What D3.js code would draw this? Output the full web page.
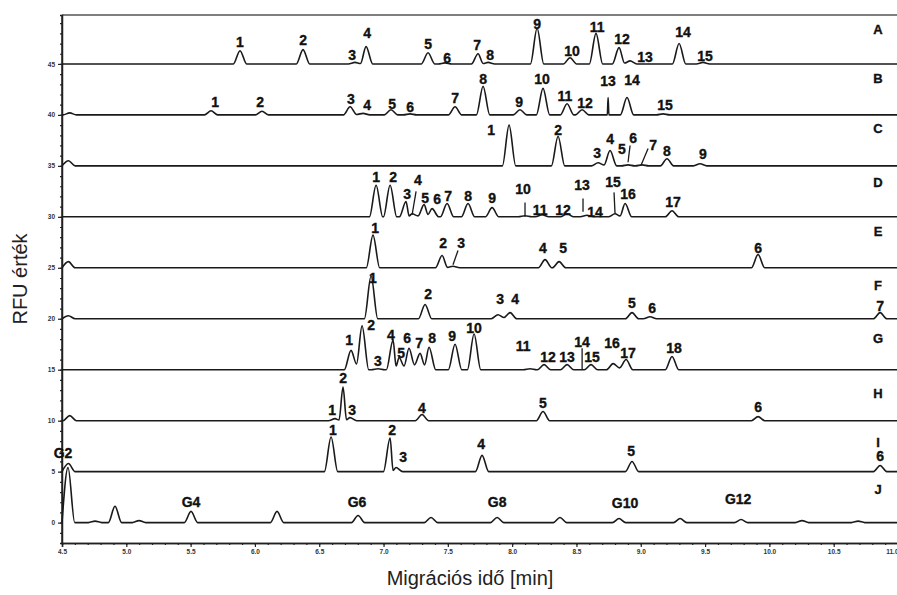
<!DOCTYPE html>
<html>
<head>
<meta charset="utf-8">
<script src="https://cdn.jsdelivr.net/npm/d3@7"></script>
<style>
  body { margin: 0; background: #fff; }
  .lbl { font-family: "Liberation Sans", Arial, sans-serif; font-weight: bold; fill: #111; stroke: #111; stroke-width: 0.35; }
</style>
</head>
<body>
<div id="chart"></div>
<script>
// electropherogram traces A..J, baseline offset in RFU
var traceNames = ["A", "B", "C", "D", "E", "F", "G", "H", "I", "J"];
var baselines = [45, 40, 35, 30, 25, 20, 15, 10, 5, 0];

// peaks: [time (min), height above baseline (RFU), optional base half-width]
var peaksA = [[5.884,1.3],[6.374,1.4],[6.778,0.15],[6.864,1.7],[7.346,1.1],[7.478,0.1],[7.735,1.0],[7.813,0.15],
  [8.194,3.5],[8.450,0.6],[8.652,3.0],[8.831,1.6],[8.917,0.3],[9.298,2.0],[9.484,0.15]];
var peaksB = [[4.56,0.2],[5.659,0.4],[6.055,0.35],[6.740,0.8],[6.841,0.15],[7.058,0.5],[7.206,0.1],[7.556,0.8],[7.774,2.8],
  [8.061,0.5],[8.240,2.6],[8.427,1.1],[8.544,0.5],[8.746,1.7,0.006],[8.893,1.7],[9.173,0.1]];
var peaksC = [[4.55,0.5],[7.976,4.0],[8.357,2.9],[8.668,0.3],[8.761,1.5],[8.901,0.1],[9.010,0.1],[9.204,0.7],[9.461,0.2]];
var peaksD = [[6.942,3.1],[7.051,3.1],[7.175,1.5],[7.222,0.3],[7.315,1.2],[7.377,0.8],[7.494,1.3],[7.657,1.3],[7.844,0.9],
  [8.100,0.1],[8.233,0.2],[8.427,0.3],[8.582,0.15],[8.800,0.3],[8.878,1.3],[9.243,0.6]];
var peaksE = [[4.55,0.6],[6.918,3.2],[7.455,1.2],[7.540,0.15],[8.256,0.8],[8.365,0.6],[9.912,1.3]];
var peaksF = [[4.55,0.3],[6.903,4.2],[7.323,1.4],[7.890,0.4],[7.984,0.6],[8.932,0.6],[9.072,0.2],[10.861,0.6]];
var peaksG = [[6.747,1.9],[6.833,4.3],[6.957,0.1],[7.074,2.9],[7.121,1.2],[7.198,2.1],[7.284,1.6],[7.354,2.2],[7.556,2.5],
  [7.704,3.5],[8.139,0.1],[8.248,0.5],[8.427,0.5],[8.613,0.5],[8.785,0.6],[8.886,1.0],[9.243,1.3]];
var peaksH = [[4.56,0.5],[6.623,0.2],[6.685,3.3],[6.739,0.3],[7.299,0.6],[8.240,0.9],[9.912,0.4]];
var peaksI = [[4.55,0.8],[6.592,3.4],[7.051,3.3],[7.097,0.4],[7.766,1.6],[8.932,1.0],[10.861,0.6]];
var peaksJ = [[4.547,5.4],[4.757,0.15],[4.912,1.6],[5.099,0.2],[5.503,1.1],[6.172,1.1],[6.802,0.7],[7.369,0.5],[7.883,0.5],
  [8.372,0.5],[8.831,0.4],[9.306,0.4],[9.780,0.3],[10.254,0.2],[10.690,0.15]];

// peak labels: [text, time, height above baseline]
var labelsA = [["1",5.884,2.2],["2",6.374,2.3],["3",6.755,0.9],["4",6.872,3.0],["5",7.346,2.0],["6",7.494,0.6],["7",7.727,1.9],
  ["8",7.828,0.9],["9",8.194,3.9],["10",8.466,1.3],["11",8.660,3.6],["12",8.855,2.4],["13",9.033,0.7],["14",9.329,3.1],["15",9.500,0.8]];
var labelsB = [["1",5.690,1.3],["2",6.040,1.3],["3",6.747,1.6],["4",6.872,1.0],["5",7.066,1.1],["6",7.206,0.8],["7",7.556,1.7],
  ["8",7.774,3.5],["9",8.054,1.3],["10",8.233,3.5],["11",8.411,1.9],["12",8.567,1.2],["13",8.746,3.3],["14",8.932,3.4],["15",9.189,1.0]];
var labelsC = [["1",7.836,3.5],["2",8.357,3.5],["3",8.660,1.3],["4",8.761,2.6],["5",8.854,1.7],["6",8.940,2.7],["7",9.096,2.0],
  ["8",9.204,1.5],["9",9.484,1.2]];
var labelsD = [["1",6.942,3.9],["2",7.074,3.9],["3",7.183,2.2],["4",7.268,3.6],["5",7.323,1.8],["6",7.416,1.7],["7",7.502,2.0],
  ["8",7.657,2.0],["9",7.844,1.8],["10",8.085,2.7],["11",8.217,0.7],["12",8.396,0.7],["13",8.544,3.1],["14",8.645,0.5],
  ["15",8.785,3.4],["16",8.901,2.2],["17",9.251,1.5]];
var labelsE = [["1",6.934,3.9],["2",7.463,2.4],["3",7.603,2.4],["4",8.240,1.9],["5",8.396,1.9],["6",9.912,1.9]];
var labelsF = [["1",6.918,4.0],["2",7.346,2.4],["3",7.906,1.9],["4",8.023,1.9],["5",8.932,1.5],["6",9.088,1.1],["7",10.861,1.3]];
var labelsG = [["1",6.732,2.9],["2",6.903,4.4],["3",6.957,0.9],["4",7.058,3.4],["5",7.136,1.6],["6",7.183,3.1],["7",7.276,2.6],
  ["8",7.377,3.1],["9",7.533,3.3],["10",7.704,4.1],["11",8.085,2.3],["12",8.279,1.2],["13",8.427,1.2],["14",8.544,2.7],
  ["15",8.621,1.2],["16",8.777,2.6],["17",8.901,1.6],["18",9.259,2.1]];
var labelsH = [["1",6.600,1.0],["2",6.685,4.2],["3",6.755,1.0],["4",7.299,1.2],["5",8.240,1.7],["6",9.912,1.3]];
var labelsI = [["1",6.607,4.1],["2",7.066,4.1],["3",7.152,1.4],["4",7.758,2.7],["5",8.925,2.0],["6",10.861,1.5]];
var labelsJ = [["G2",4.508,6.8],["G4",5.503,2.0],["G6",6.794,2.0],["G8",7.883,2.0],["G10",8.878,1.9],["G12",9.757,2.3]];

// leader lines from label to peak: [trace, t1, dy1, t2, dy2]
var pointers = [["C",8.917,2.0,8.901,0.35],["C",9.057,1.7,9.002,0.05],
  ["D",7.253,2.5,7.222,0.2],["D",8.100,1.4,8.100,0],["D",8.551,1.8,8.551,0.5],["D",8.792,2.4,8.800,0.3],
  ["E",7.579,1.7,7.540,0.3],["G",8.544,2.1,8.544,0]];

var rowLabelTime = 10.845;
var rowLabelHeights = [3.4, 3.6, 3.7, 3.4, 3.6, 3.3, 3.1, 2.7, 2.9, 3.2];

var xTickValues = [4.5, 5.0, 5.5, 6.0, 6.5, 7.0, 7.5, 8.0, 8.5, 9.0, 9.5, 10.0, 10.5, 11.0];
var yTickValues = [0, 5, 10, 15, 20, 25, 30, 35, 40, 45];

var allPeaks = [peaksA, peaksB, peaksC, peaksD, peaksE, peaksF, peaksG, peaksH, peaksI, peaksJ];
var allLabels = [labelsA, labelsB, labelsC, labelsD, labelsE, labelsF, labelsG, labelsH, labelsI, labelsJ];

var W = 897, H = 595;
var margin = {top: 15, left: 62, bottom: 52, right: -1};

var svg = d3.select("#chart").append("svg")
  .attr("width", W).attr("height", H);

var x = d3.scaleLinear().domain([4.5, 11]).range([margin.left, W - margin.right]);
var y = d3.scaleLinear().domain([-2, 49.8]).range([H - margin.bottom, margin.top]);

var baseW = 0.052;

// turn the peak list into points: feet + apex, valley between overlapping peaks
function tracePoints(peaks) {
  var ps = peaks.map(function(p) { return {t: p[0], h: p[1], w: p[2] || baseW}; })
    .sort(function(a, b) { return a.t - b.t; });
  var pts = [[4.5, 0]];
  ps.forEach(function(p, i) {
    var prev = ps[i - 1];
    if (prev && p.t - p.w < prev.t + prev.w) {
      pts.push([(prev.t + p.t) / 2, Math.min(prev.h, p.h) * 0.3]);
    } else {
      if (prev) pts.push([prev.t + prev.w, 0]);
      if (p.t - p.w > 4.5) pts.push([p.t - p.w, 0]);
    }
    pts.push([p.t, p.h]);
  });
  var last = ps[ps.length - 1];
  if (last.t + last.w < 11) { pts.push([last.t + last.w, 0]); pts.push([11, 0]); }
  else pts.push([11, 0]);
  return pts;
}

// frame: top line
svg.append("line")
  .attr("x1", margin.left).attr("x2", W)
  .attr("y1", margin.top).attr("y2", margin.top)
  .attr("stroke", "#555").attr("stroke-width", 1.5);

// x axis
var xMinor = svg.append("g")
  .attr("transform", "translate(0," + (H - margin.bottom) + ")")
  .call(d3.axisBottom(x).tickValues(d3.range(45, 111).map(function(d) { return d / 10; }))
    .tickSize(2).tickFormat(""));
var xAxis = svg.append("g")
  .attr("transform", "translate(0," + (H - margin.bottom) + ")")
  .call(d3.axisBottom(x).tickValues(xTickValues).tickSize(4).tickPadding(2)
    .tickFormat(function(d) { return d3.format(".1f")(d); }));
xAxis.selectAll(".tick text").filter(function(d) { return d === 11; }).attr("text-anchor", "end");

// y axis
var yMinor = svg.append("g")
  .attr("transform", "translate(" + margin.left + ",0)")
  .call(d3.axisLeft(y).tickValues(d3.range(-1, 50)).tickSize(2).tickFormat(""));
var yAxis = svg.append("g")
  .attr("transform", "translate(" + margin.left + ",0)")
  .call(d3.axisLeft(y).tickValues(yTickValues).tickSize(4).tickPadding(3));

[xMinor, xAxis, yMinor, yAxis].forEach(function(g) {
  g.select(".domain").attr("stroke", "#222").attr("stroke-width", 1.5);
  g.selectAll(".tick line").attr("stroke", "#222").attr("stroke-width", 1.2);
  g.selectAll("text").attr("font-family", "Liberation Sans, Arial, sans-serif")
    .attr("font-weight", "bold").attr("font-size", 6.5).attr("fill", "#333");
});
yAxis.select(".domain").attr("d", "M0," + margin.top + "V" + (H - margin.bottom));

// traces
var line = d3.line()
  .x(function(d) { return x(d[0]); })
  .curve(d3.curveMonotoneX);

allPeaks.forEach(function(peaks, i) {
  var b = baselines[i];
  svg.append("path")
    .datum(tracePoints(peaks))
    .attr("fill", "none")
    .attr("stroke", "#1a1a1a")
    .attr("stroke-width", 1.6)
    .attr("stroke-linejoin", "round")
    .attr("d", line.y(function(d) { return y(b + d[1]); }));
});

// leader lines
pointers.forEach(function(p) {
  var b = baselines[traceNames.indexOf(p[0])];
  svg.append("line")
    .attr("x1", x(p[1])).attr("y1", y(b + p[2]))
    .attr("x2", x(p[3])).attr("y2", y(b + p[4]))
    .attr("stroke", "#1a1a1a").attr("stroke-width", 1.3);
});

// peak labels
allLabels.forEach(function(labels, i) {
  var b = baselines[i];
  svg.selectAll(null).data(labels).enter()
    .append("text")
    .attr("class", "lbl")
    .attr("x", function(d) { return x(d[1]); })
    .attr("y", function(d) { return y(b + d[2]); })
    .attr("text-anchor", "middle")
    .attr("dominant-baseline", "central")
    .attr("font-size", 14)
    .text(function(d) { return d[0]; });
});

// row letters
svg.selectAll(null).data(traceNames).enter()
  .append("text")
  .attr("class", "lbl")
  .attr("x", x(rowLabelTime))
  .attr("y", function(d, i) { return y(baselines[i] + rowLabelHeights[i]); })
  .attr("text-anchor", "middle")
  .attr("dominant-baseline", "central")
  .attr("font-size", 13)
  .text(function(d) { return d; });

// axis titles
svg.append("text")
  .attr("transform", "translate(27," + ((margin.top + H - margin.bottom) / 2) + ") rotate(-90)")
  .attr("text-anchor", "middle")
  .attr("font-family", "Liberation Sans, Arial, sans-serif")
  .attr("font-size", 20).attr("fill", "#222")
  .text("RFU érték");

svg.append("text")
  .attr("x", 470).attr("y", 585)
  .attr("text-anchor", "middle")
  .attr("font-family", "Liberation Sans, Arial, sans-serif")
  .attr("font-size", 20).attr("fill", "#222")
  .text("Migrációs idő [min]");
</script>
</body>
</html>
